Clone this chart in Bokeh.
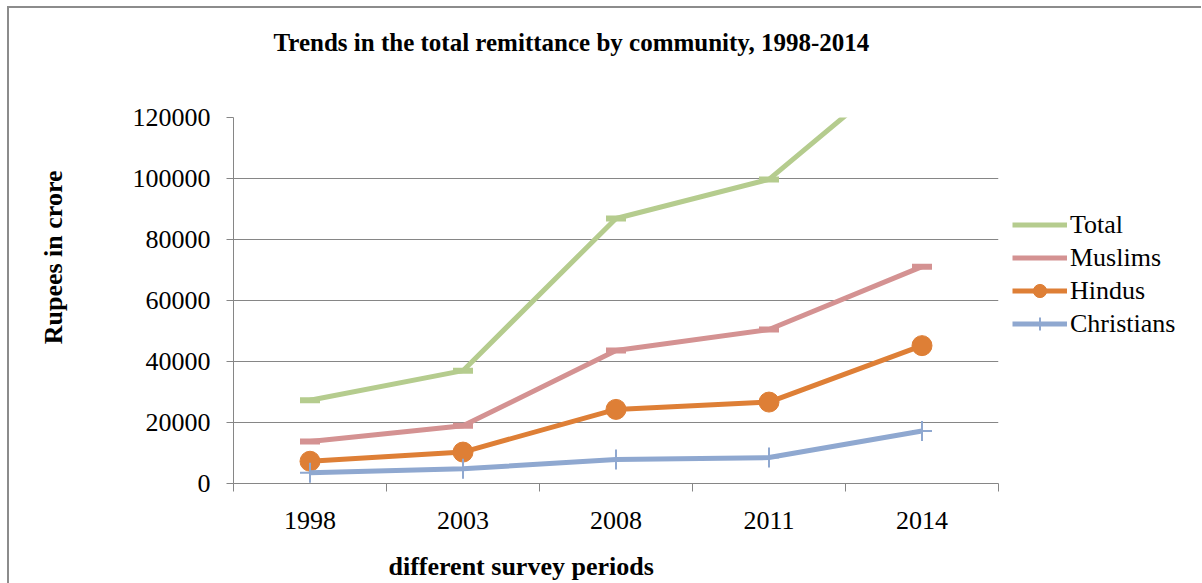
from bokeh.plotting import figure
from bokeh.layouts import row
from bokeh.models import (FixedTicker, NumeralTickFormatter, Legend, LegendItem,
                          Title, Range1d)
from bokeh.embed import file_html
from bokeh.resources import INLINE

# ---- data ----
years = ["1998", "2003", "2008", "2011", "2014"]
total = [27300, 37000, 86900, 99700, 141600]
muslims = [13800, 18900, 43600, 50500, 71100]
hindus = [7300, 10300, 24300, 26700, 45200]
christians = [3500, 4800, 7900, 8500, 17200]
y_ticks = [0, 20000, 40000, 60000, 80000, 100000, 120000]
series_names = ["Total", "Muslims", "Hindus", "Christians"]

FONT = "Liberation Serif"
GRAY = "#868686"
C_TOTAL = "#B5CC8E"
C_MUS = "#D49292"
C_HIN = "#DE7F36"
C_CHR = "#8FA8D0"

x = list(range(len(years)))

p = figure(width=994, height=575, output_backend="svg", toolbar_location=None,
           x_range=Range1d(-0.5, len(years) - 0.5), y_range=Range1d(0, 120000),
           min_border_left=224, min_border_right=5, min_border_top=109,
           min_border_bottom=100)
p.outline_line_color = None
p.background_fill_color = "white"
p.border_fill_color = "white"

# axes
p.xaxis.ticker = FixedTicker(ticks=x, minor_ticks=[i - 0.5 for i in range(len(years) + 1)])
p.xaxis.major_label_overrides = {i: y for i, y in enumerate(years)}
p.xaxis.major_tick_out = 0
p.xaxis.major_tick_in = 0
p.xaxis.minor_tick_out = 8
p.xaxis.minor_tick_in = 0
p.xaxis.minor_tick_line_color = GRAY
p.xaxis.axis_line_color = GRAY
p.xaxis.major_label_standoff = 20

p.yaxis.ticker = FixedTicker(ticks=y_ticks, minor_ticks=[])
p.yaxis.formatter = NumeralTickFormatter(format="0")
p.yaxis.major_tick_out = 7
p.yaxis.major_tick_in = 0
p.yaxis.major_tick_line_color = GRAY
p.yaxis.axis_line_color = GRAY
p.yaxis.major_label_standoff = 16

for ax in (p.xaxis, p.yaxis):
    ax.major_label_text_font = FONT
    ax.major_label_text_font_size = "26px"
    ax.major_label_text_color = "black"

p.xgrid.grid_line_color = None
p.ygrid.grid_line_color = GRAY
p.ygrid.grid_line_width = 1


def spacer(n):
    # title used only to reserve about n pixels in a side panel
    return Title(text="\u200b", text_font=FONT, text_font_size="10px",
                 standoff=max(n - 13, 0), text_color="white")


# series
p.line(x, total, line_color=C_TOTAL, line_width=5, line_join="round")
p.scatter(x, total, marker="dash", size=20, line_color=C_TOTAL, line_width=6)
p.line(x, muslims, line_color=C_MUS, line_width=5, line_join="round")
p.scatter(x, muslims, marker="dash", size=20, line_color=C_MUS, line_width=6)
p.line(x, hindus, line_color=C_HIN, line_width=5, line_join="round")
p.scatter(x, hindus, marker="circle", size=20, fill_color=C_HIN, line_color=C_HIN)
p.line(x, christians, line_color=C_CHR, line_width=5, line_join="round")
p.scatter(x, christians, marker="cross", size=20, line_color=C_CHR, line_width=2)

t_main = Title(text="Trends in the total remittance by community, 1998-2014",
               align="left", offset=40, standoff=0, text_color="black",
               text_font=FONT, text_font_size="25px", text_font_style="bold")
t_x = Title(text="different  survey periods", align="left", offset=155, standoff=0,
            text_color="black",
            text_font=FONT, text_font_size="26px", text_font_style="bold")
t_y = Title(text="Rupees in crore", align="right", offset=53, standoff=0,
            text_color="black",
            text_font=FONT, text_font_size="26px", text_font_style="bold")

# explicit side-panel order: frame-side element first for below, outermost first
# for above/left as Bokeh stacks them
p.above = [spacer(62), t_main]
p.below = [p.xaxis[0], spacer(18), t_x]
p.left = [p.yaxis[0], spacer(62), t_y]

# legend panel (its renderers lie outside its visible range; only the legend shows)
pl = figure(width=198, height=575, output_backend="svg", toolbar_location=None,
            x_axis_location=None, y_axis_location=None, min_border=0,
            x_range=Range1d(100, 101), y_range=Range1d(0, 120000))
pl.outline_line_color = None
pl.xgrid.grid_line_color = None
pl.ygrid.grid_line_color = None
lt = pl.line(x, total, line_color=C_TOTAL, line_width=5)
lm = pl.line(x, muslims, line_color=C_MUS, line_width=5)
lh = pl.line(x, hindus, line_color=C_HIN, line_width=5)
lhm = pl.scatter(x, hindus, marker="circle", fill_color=C_HIN, line_color=C_HIN)
lc = pl.line(x, christians, line_color=C_CHR, line_width=5)
lcm = pl.scatter(x, christians, marker="cross", line_color=C_CHR, line_width=2)

legend = Legend(items=[
    LegendItem(label=series_names[0], renderers=[lt]),
    LegendItem(label=series_names[1], renderers=[lm]),
    LegendItem(label=series_names[2], renderers=[lh, lhm]),
    LegendItem(label=series_names[3], renderers=[lc, lcm]),
], location=(9, 143))
legend.label_text_font = FONT
legend.label_text_font_size = "26px"
legend.label_text_color = "black"
legend.glyph_width = 55
legend.glyph_height = 33
legend.label_height = 33
legend.label_standoff = 3
legend.spacing = 0
legend.padding = 0
legend.margin = 0
legend.border_line_color = None
legend.background_fill_alpha = 0
pl.add_layout(legend, "center")

lay = row(p, pl)
lay.styles = {"margin-left": "7px", "margin-top": "6px",
              "border-left": "2px solid #8c8c8c", "border-top": "2px solid #8c8c8c"}

open("out.html", "w").write(file_html(lay, INLINE))
